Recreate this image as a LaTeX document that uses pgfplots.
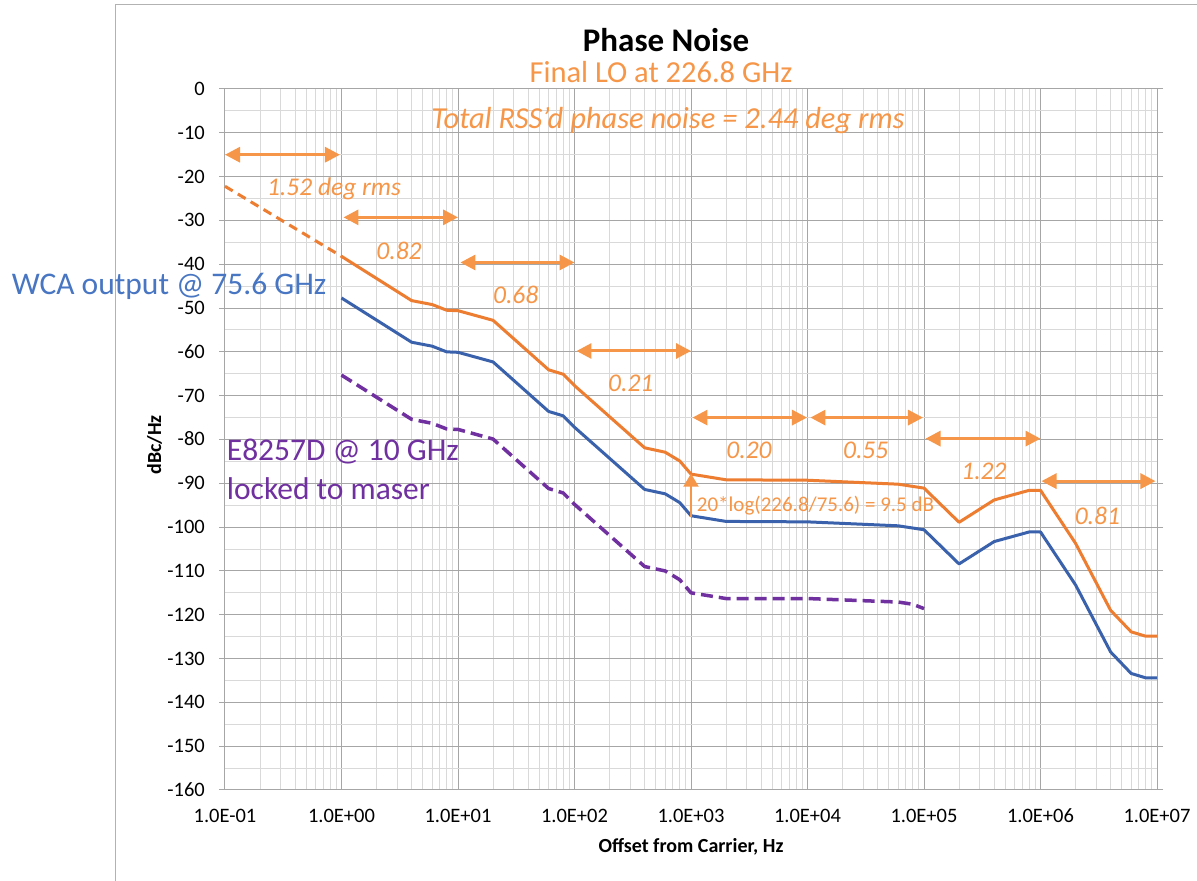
\documentclass[border=0pt]{standalone}
\usepackage{fontspec}
\setmainfont{Carlito}
\usepackage{pgfplots}
\pgfplotsset{compat=1.18}
\usetikzlibrary{arrows.meta}
\definecolor{lineorange}{RGB}{237,125,49}
\definecolor{txtorange}{RGB}{246,150,72}
\definecolor{lineblue}{RGB}{58,98,172}
\definecolor{txtblue}{RGB}{72,118,194}
\definecolor{mypurple}{RGB}{112,48,160}
\newcommand\fs[1]{\fontsize{#1}{#1}\selectfont}
\begin{document}
\begin{tikzpicture}[x=1pt,y=1pt]
\path[use as bounding box] (0,0) rectangle (1197,881);
\fill[white] (0,0) rectangle (1197,881);
\draw[black!30, line width=1pt] (115,0) -- (115,876) -- (1197,876);
\begin{axis}[
  at={(225pt,91pt)}, anchor=south west,
  scale only axis, width=932pt, height=701pt,
  xmode=log, log basis x=10,
  xmin=0.1, xmax=1e7, ymin=-160, ymax=0,
  xtick={0.1,1,10,100,1000,10000,100000,1000000,10000000},
  xticklabels={1.0E-01,1.0E+00,1.0E+01,1.0E+02,1.0E+03,1.0E+04,1.0E+05,1.0E+06,1.0E+07},
  minor xtick={0.2,0.3,0.4,0.5,0.6,0.7,0.8,0.9,
               2,3,4,5,6,7,8,9,
               20,30,40,50,60,70,80,90,
               200,300,400,500,600,700,800,900,
               2000,3000,4000,5000,6000,7000,8000,9000,
               20000,30000,40000,50000,60000,70000,80000,90000,
               200000,300000,400000,500000,600000,700000,800000,900000,
               2000000,3000000,4000000,5000000,6000000,7000000,8000000,9000000},
  ytick={-160,-150,...,0},
  yticklabels={-160,-150,-140,-130,-120,-110,-100,-90,-80,-70,-60,-50,-40,-30,-20,-10,0},
  minor ytick={-155,-145,-135,-125,-115,-105,-95,-85,-75,-65,-55,-45,-35,-25,-15,-5},
  grid=both,
  major grid style={line width=1pt, draw=black!35},
  minor grid style={line width=1pt, draw=black!15},
  axis line style={line width=1pt, draw=black!35},
  tick align=outside,
  major tick length=6pt, minor tick length=0pt,
  xtick style={draw=none},
  ytick style={line width=1pt, draw=black!35},
  xticklabel style={font=\fs{20.5}, anchor=base, inner sep=0pt, yshift=-27pt},
  yticklabel style={font=\fs{20.5}, anchor=base east, inner sep=0pt, xshift=-14pt, yshift=-6.5pt},
  clip=false,
]
% Final LO (orange), extrapolated part
\addplot[lineorange, line width=3pt, dash pattern=on 9pt off 6pt] coordinates {(0.1,-22.2) (1,-38.2)};
% Final LO at 226.8 GHz
\addplot[lineorange, line width=3pt, line join=round] coordinates {
(1,-38.2) (4,-48.3) (6,-49.2) (8,-50.5) (10,-50.6) (20,-52.8) (60,-64.1) (80,-65.1)
(100,-67.7) (400,-81.9) (600,-82.9) (800,-84.9) (1000,-87.9) (2000,-89.2) (10000,-89.3)
(60000,-90.2) (100000,-91.1) (200000,-98.9) (400000,-93.8) (800000,-91.6) (1000000,-91.6)
(2000000,-103.7) (4000000,-119.0) (6000000,-123.9) (8000000,-124.9) (10000000,-124.9)};
% WCA output @ 75.6 GHz
\addplot[lineblue, line width=3pt, line join=round] coordinates {
(1,-47.7) (4,-57.8) (6,-58.7) (8,-60.0) (10,-60.1) (20,-62.3) (60,-73.6) (80,-74.6)
(100,-77.2) (400,-91.4) (600,-92.4) (800,-94.4) (1000,-97.4) (2000,-98.7) (10000,-98.8)
(60000,-99.7) (100000,-100.6) (200000,-108.4) (400000,-103.3) (800000,-101.1) (1000000,-101.1)
(2000000,-113.2) (4000000,-128.5) (6000000,-133.4) (8000000,-134.4) (10000000,-134.4)};
% E8257D @ 10 GHz
\addplot[mypurple, line width=3.5pt, line join=round, dash pattern=on 12pt off 6pt] coordinates {
(1,-65.3) (4,-75.4) (6,-76.3) (8,-77.6) (10,-77.7) (20,-79.9) (60,-91.2) (80,-92.2)
(100,-94.8) (400,-109.0) (600,-110.0) (800,-112.0) (1000,-115.0) (2000,-116.3) (10000,-116.3)
(60000,-117.1) (80000,-117.6) (100000,-118.6)};

% integration-band arrows
\tikzset{band/.style={txtorange, line width=3pt, {Triangle[length=15pt,width=15pt]}-{Triangle[length=15pt,width=15pt]}}}
\draw[band] (axis cs:0.1,-15) -- (axis cs:0.97,-15);
\draw[band] (axis cs:1.04,-29.3) -- (axis cs:10,-29.3);
\draw[band] (axis cs:10.5,-39.6) -- (axis cs:100,-39.6);
\draw[band] (axis cs:104,-59.8) -- (axis cs:1000,-59.8);
\draw[band] (axis cs:1030,-75) -- (axis cs:9900,-75);
\draw[band] (axis cs:10600,-75) -- (axis cs:98000,-75);
\draw[band] (axis cs:103000,-79.8) -- (axis cs:1000000,-79.8);
\draw[band] (axis cs:1020000,-89.5) -- (axis cs:9700000,-89.5);
\draw[txtorange, line width=2pt, -{Triangle[length=13pt,width=15pt]}] (axis cs:1000,-97.6) -- (axis cs:1000,-87.8);

\tikzset{num/.style={txtorange, anchor=base, inner sep=0pt, font=\itshape\fs{25.5}}}
\node[num] at (axis cs:0.863,-24.2) {1.52 deg rms};
\node[num] at (axis cs:3.12,-39.0) {0.82};
\node[num] at (axis cs:31.3,-48.9) {0.68};
\node[num] at (axis cs:304,-69.1) {0.21};
\node[num] at (axis cs:3147,-84.3) {0.20};
\node[num] at (axis cs:31600,-84.3) {0.55};
\node[num] at (axis cs:327000,-89.1) {1.22};
\node[num] at (axis cs:3080000,-99.3) {0.81};
\node[txtorange, anchor=base west, inner sep=0pt, font=\fs{21}] at (axis cs:1119,-96.5) {20*log(226.8/75.6) = 9.5 dB};
\end{axis}
% titles and labels (1pt = 1px, origin bottom-left)
\node[anchor=base, inner sep=0pt, font=\bfseries\fs{33}] at (666,829.3) {Phase Noise};
\node[anchor=base, inner sep=0pt, font=\fs{30.5}, txtorange] at (661,798.5) {Final LO at 226.8 GHz};
\node[anchor=base, inner sep=0pt, font=\itshape\fs{30.5}, txtorange] at (668,752.5) {Total RSS’d phase noise = 2.44 deg rms};
\node[anchor=base west, inner sep=0pt, font=\fs{31.5}, txtblue] at (11.7,586) {WCA output @ 75.6 GHz};
\node[anchor=base west, inner sep=0pt, font=\fs{31.5}, mypurple] at (226.7,420.3) {E8257D @ 10 GHz};
\node[anchor=base west, inner sep=0pt, font=\fs{31.5}, mypurple] at (226.7,381) {locked to maser};
\node[anchor=base, inner sep=0pt, font=\bfseries\fs{20}] at (691,28) {Offset from Carrier, Hz};
\node[anchor=base, inner sep=0pt, rotate=90, font=\bfseries\fs{20}] at (161,436) {dBc/Hz};
\end{tikzpicture}
\end{document}
